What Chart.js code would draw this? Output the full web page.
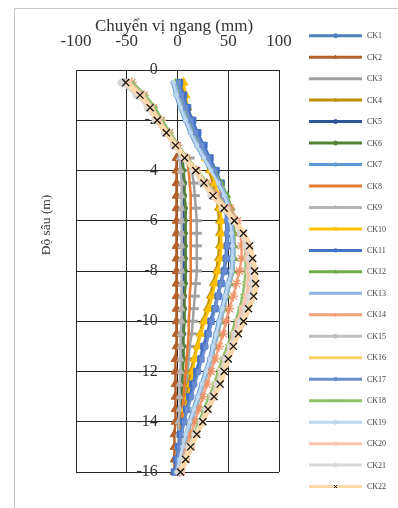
<!DOCTYPE html>
<html>
<head>
<meta charset="utf-8">
<title>Chuyển vị ngang</title>
<script src="https://cdn.jsdelivr.net/npm/chart.js@4.4.1/dist/chart.umd.min.js"></script>
<style>
  html, body { margin: 0; padding: 0; background: #fff; }
  canvas { display: block; }
</style>
</head>
<body>
<canvas id="myChart" width="398" height="508"></canvas>
<script>
// depths (m) of the readings
var depth = [-0.5, -1, -1.5, -2, -2.5, -3, -3.5, -4, -4.5, -5, -5.5, -6, -6.5, -7, -7.5, -8,
             -8.5, -9, -9.5, -10, -10.5, -11, -11.5, -12, -12.5, -13, -13.5, -14, -14.5, -15, -15.5, -16];
var depthLower = [-3.5, -4, -4.5, -5, -5.5, -6, -6.5, -7, -7.5, -8, -8.5, -9, -9.5, -10, -10.5,
                  -11, -11.5, -12, -12.5, -13, -13.5, -14, -14.5, -15, -15.5, -16];

var names = ['CK1', 'CK2', 'CK3', 'CK4', 'CK5', 'CK6', 'CK7', 'CK8', 'CK9', 'CK10', 'CK11',
             'CK12', 'CK13', 'CK14', 'CK15', 'CK16', 'CK17', 'CK18', 'CK19', 'CK20', 'CK21', 'CK22'];

// horizontal displacement (mm)
var ck1  = [0, 3, 7, 12, 17, 23, 29, 35, 40, 44, 47, 48, 48, 48, 47, 45, 42, 39, 36, 32, 29, 25, 22, 18, 14, 11, 8, 5, 3, 1, -1, -2];
var ck2  = [-1, -1, -1, -1, -1, -1, -1, -1, -1, -1, -1, -1, -1, -1, -1, -1, -2, -2, -2, -2, -2, -2, -3, -3, -3, -3];
var ck3  = [12, 14, 16, 17, 18, 19, 19, 19, 19, 19, 18, 17, 16, 15, 14, 12, 11, 10, 9, 7, 6, 5, 4, 3, 2, 1];
var ck4  = [4, 7, 9, 13, 17, 22, 27, 31, 35, 38, 40, 41, 41, 41, 40, 38, 35, 32, 29, 25, 22, 19, 16, 13, 11, 9, 7, 5, 3, 1, 0, -1];
var ck5  = [4, 5, 6, 6, 6, 6, 6, 6, 6, 6, 6, 6, 6, 5, 5, 5, 5, 4, 4, 3, 3, 2, 2, 1, 0, -1];
var ck6  = [5, 6, 7, 7, 8, 8, 8, 8, 8, 8, 8, 7, 7, 7, 6, 6, 6, 5, 5, 4, 4, 3, 3, 2, 1, 0];
var ck7  = [-5, -2, 2, 7, 12, 18, 25, 32, 39, 45, 49, 51, 52, 53, 53, 52, 49, 46, 43, 40, 37, 34, 31, 27, 23, 19, 15, 11, 8, 5, 2, -1];
var ck8  = [9, 11, 12, 13, 13, 13, 13, 13, 13, 13, 13, 12, 12, 11, 11, 10, 9, 8, 7, 6, 5, 4, 3, 2, 1, 0];
var ck9  = [2, 3, 4, 4, 4, 4, 4, 4, 4, 4, 4, 4, 4, 4, 3, 3, 3, 3, 2, 2, 2, 1, 1, 0, 0, -1];
var ck10 = [6, 8, 10, 14, 18, 23, 28, 33, 37, 40, 42, 43, 43, 43, 42, 40, 37, 34, 31, 27, 23, 20, 17, 15, 13, 11, 8, 6, 4, 2, 0, -1];
var ck11 = [2, 6, 10, 15, 20, 26, 32, 38, 43, 47, 49, 50, 50, 49, 48, 46, 43, 40, 37, 33, 30, 26, 23, 19, 15, 12, 9, 6, 3, 1, -1, -3];
var ck12 = [-2, 2, 6, 11, 16, 22, 29, 36, 43, 49, 53, 55, 56, 56, 56, 55, 52, 49, 46, 43, 40, 37, 34, 30, 26, 22, 18, 14, 10, 7, 4, 1];
var ck13 = [-3, 0, 4, 9, 14, 20, 27, 34, 41, 47, 51, 53, 54, 55, 55, 54, 51, 48, 45, 42, 39, 36, 33, 29, 25, 21, 17, 13, 9, 6, 3, 0];
var ck14 = [-45, -33, -24, -16, -8, 0, 9, 19, 29, 42, 52, 59, 62, 63, 63, 61, 58, 55, 51, 48, 45, 41, 37, 33, 29, 25, 21, 17, 13, 9, 5, 2];
var ck15 = [-53, -39, -28, -21, -12, -3, 6, 16, 25, 34, 45, 55, 63, 69, 72, 74, 74, 72, 68, 63, 58, 53, 48, 44, 40, 35, 29, 24, 18, 12, 7, 2];
var ck16 = [-50, -36, -26, -19, -10, -1, 8, 19, 27, 36, 47, 57, 66, 72, 75, 77, 78, 76, 71, 66, 61, 56, 51, 47, 43, 37, 31, 26, 20, 14, 9, 4];
var ck17 = [1, 4, 8, 13, 18, 24, 30, 36, 41, 45, 48, 49, 49, 49, 48, 46, 43, 40, 37, 34, 31, 28, 24, 21, 17, 14, 10, 7, 4, 2, 0, -2];
var ck18 = [-44, -32, -22, -15, -7, 1, 10, 20, 29, 39, 50, 58, 63, 66, 67, 67, 66, 64, 61, 57, 53, 49, 44, 40, 36, 31, 26, 21, 16, 11, 6, 2];
var ck19 = [-4, -1, 3, 8, 13, 19, 26, 33, 40, 46, 50, 52, 53, 54, 54, 53, 50, 47, 44, 41, 38, 35, 32, 28, 24, 20, 16, 12, 8, 5, 2, -1];
var ck20 = [-48, -35, -26, -18, -10, -1, 8, 18, 27, 37, 48, 57, 63, 67, 69, 70, 70, 68, 64, 60, 56, 52, 47, 43, 39, 34, 29, 24, 19, 14, 9, 4];
var ck21 = [-56, -41, -30, -22, -13, -4, 5, 15, 24, 33, 44, 54, 62, 68, 71, 73, 73, 71, 67, 62, 57, 52, 47, 43, 39, 34, 28, 23, 17, 11, 6, 1];
var ck22 = [-51, -37, -27, -20, -11, -2, 7, 18, 26, 35, 46, 56, 65, 71, 74, 76, 77, 75, 70, 65, 60, 55, 50, 46, 42, 36, 30, 25, 19, 13, 8, 3];

var values = [ck1, ck2, ck3, ck4, ck5, ck6, ck7, ck8, ck9, ck10, ck11,
              ck12, ck13, ck14, ck15, ck16, ck17, ck18, ck19, ck20, ck21, ck22];
var depths = [depth, depthLower, depthLower, depth, depthLower, depthLower, depth, depthLower, depthLower, depth, depth,
              depth, depth, depth, depth, depth, depth, depth, depth, depth, depth, depth];

var xTicks = [-100, -50, 0, 50, 100];
var yTicks = [0, -2, -4, -6, -8, -10, -12, -14, -16];

// look of each series
var colors = ['#4F81BD', '#B5602C', '#A0A0A0', '#BF9000', '#2F5597', '#548235', '#5B9BD5', '#E67A35', '#B4B4B4', '#FFC000', '#4472C4',
              '#70AD47', '#8FB4E3', '#F2A07C', '#BFBFBF', '#FFCF66', '#6A8ED0', '#8CC168', '#BDD7EE', '#F8C4AE', '#D9D9D9', '#FDD9AC'];
var markers = ['circle', 'triangle', 'line', 'triangle', 'circle', 'circle', 'rect', 'circle', 'triangle', 'triangle', 'rect',
               'triangle', 'circle', 'star', 'circle', 'circle', 'rect', 'crossRot', 'circle', 'rect', 'circle', 'crossRot'];
var markerSize = [2, 5, 5, 4, 3, 2, 2, 0, 4, 5, 4.5, 4, 0, 5, 4, 0, 3, 3, 2, 4, 3, 5];
var lineWidth = [2.5, 2.5, 2.5, 2.5, 2.5, 2.5, 2.5, 2.5, 2.5, 2.5, 2.5, 2.5, 4, 2.5, 2.5, 3, 2.5, 2.5, 2.5, 4, 2.5, 5];

Chart.defaults.font.family = "'Liberation Serif', serif";
Chart.defaults.color = '#333333';

var datasets = [];
for (let i = 0; i < names.length; i++) {
    var pts = [];
    for (let k = 0; k < values[i].length; k++) {
        pts.push({ x: values[i][k], y: depths[i][k] });
    }
    var markerFill = colors[i];
    var markerLine = colors[i];
    if (i === 4) { markerFill = '#9DB8E4'; }
    if (i === 21) { markerLine = '#111111'; }
    if (i === 13) { markerLine = '#EE8F66'; }
    datasets.push({
        label: names[i],
        data: pts,
        showLine: true,
        borderColor: colors[i],
        backgroundColor: colors[i],
        borderWidth: lineWidth[i],
        pointStyle: markers[i],
        pointRadius: markerSize[i],
        pointBackgroundColor: markerFill,
        pointBorderColor: markerLine,
        pointBorderWidth: (markers[i] === 'line' ? 3 : (markers[i] === 'crossRot' || markers[i] === 'star' ? 1.3 : 1)),
        tension: 0.2,
        clip: 8,
        order: names.length - i
    });
}

// frame, axis titles and legend drawn by hand
var extras = {
    id: 'extras',
    beforeDraw: function (chart) {
        var c = chart.ctx;
        c.save();
        c.fillStyle = '#ffffff';
        c.fillRect(0, 0, chart.width, chart.height);
        c.strokeStyle = '#C8C8C8';
        c.lineWidth = 1;
        c.beginPath();
        c.moveTo(14.5, chart.height);
        c.lineTo(14.5, 8.5);
        c.lineTo(chart.width, 8.5);
        c.stroke();
        c.restore();
    },
    afterDraw: function (chart) {
        var c = chart.ctx;
        c.save();
        c.fillStyle = '#333333';
        c.textAlign = 'center';
        c.textBaseline = 'middle';
        c.font = "17px 'Liberation Serif'";
        c.fillText('Chuyển vị ngang (mm)', 174, 27);
        c.translate(46, 225);
        c.rotate(-Math.PI / 2);
        c.font = "13.5px 'Liberation Serif'";
        c.fillText('Độ sâu (m)', 0, 0);
        c.restore();

        c.save();
        for (let i = 0; i < names.length; i++) {
            var y = 35.7 + i * 21.47;
            c.strokeStyle = colors[i];
            c.lineWidth = 3;
            c.beginPath();
            c.moveTo(309, y);
            c.lineTo(362, y);
            c.stroke();
            if (markerSize[i] > 0) {
                c.fillStyle = i === 21 ? '#111111' : colors[i];
                c.strokeStyle = i === 21 ? '#111111' : colors[i];
                c.lineWidth = 1;
                Chart.helpers.drawPoint(c, { pointStyle: markers[i], radius: 2, borderWidth: 1 }, 335.5, y);
            }
            c.fillStyle = '#404040';
            c.textAlign = 'left';
            c.textBaseline = 'middle';
            c.font = "8px 'Liberation Serif'";
            c.fillText(names[i], 367, y + 0.5);
        }
        c.restore();
    }
};

var ctx = document.getElementById('myChart');
var chart = new Chart(ctx, {
    type: 'scatter',
    data: { datasets: datasets },
    options: {
        responsive: false,
        animation: false,
        devicePixelRatio: 1,
        layout: { padding: { left: 76, right: 119, top: 30, bottom: 36 } },
        plugins: {
            legend: { display: false },
            tooltip: { enabled: false }
        },
        scales: {
            x: {
                type: 'linear',
                position: 'top',
                min: -100,
                max: 100,
                afterFit: function (s) { s.height = 40; },
                afterBuildTicks: function (s) { s.ticks = xTicks.map(function (v) { return { value: v }; }); },
                ticks: { padding: 18, font: { size: 17 }, color: '#333333', maxRotation: 0 },
                grid: { color: '#262626', lineWidth: 1, drawTicks: false },
                border: { color: '#262626', width: 1 }
            },
            y: {
                type: 'linear',
                // labels sit just left of the zero line, inside the plot
                position: { x: -19.5 },
                min: -16,
                max: 0,
                afterBuildTicks: function (s) { s.ticks = yTicks.map(function (v) { return { value: v }; }); },
                ticks: { padding: 0, font: { size: 16 }, color: '#333333' },
                grid: { color: '#262626', lineWidth: 1, drawTicks: false },
                border: { display: false }
            }
        }
    },
    plugins: [extras]
});
</script>
</body>
</html>
